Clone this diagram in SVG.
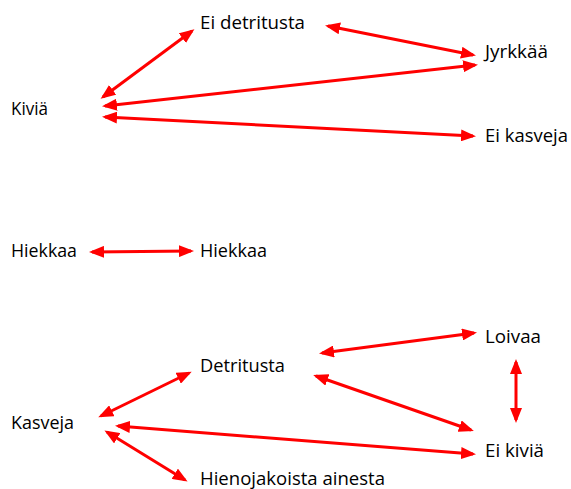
<svg xmlns="http://www.w3.org/2000/svg" width="571" height="489" viewBox="0 0 571 489">
<style>
text{font-family:"Open Sans","Liberation Sans",sans-serif;font-size:18px;fill:#000}
.c line{stroke:#ff0000;stroke-width:3;fill:none;marker-start:url(#ah);marker-end:url(#ah)}
</style>
<defs>
<marker id="ah" markerUnits="userSpaceOnUse" markerWidth="15" markerHeight="12" refX="12" refY="6" orient="auto-start-reverse" viewBox="0 0 15 12">
<path d="M0,0 L15,6 L0,12 z" fill="#ff0000"/>
</marker>
</defs>
<rect width="571" height="489" fill="#ffffff"/>
<g id="n-eidetritusta"><text x="200" y="29" textLength="105" lengthAdjust="spacingAndGlyphs">Ei detritusta</text></g>
<g id="n-jyrkkaa"><text x="485" y="58" textLength="63" lengthAdjust="spacingAndGlyphs">Jyrkkää</text></g>
<g id="n-kivia"><text x="11" y="115" textLength="37" lengthAdjust="spacingAndGlyphs">Kiviä</text></g>
<g id="n-eikasveja"><text x="485" y="142" textLength="83" lengthAdjust="spacingAndGlyphs">Ei kasveja</text></g>
<g id="n-hiekkaa1"><text x="11" y="257" textLength="66" lengthAdjust="spacingAndGlyphs">Hiekkaa</text></g>
<g id="n-hiekkaa2"><text x="200" y="257" textLength="67" lengthAdjust="spacingAndGlyphs">Hiekkaa</text></g>
<g id="n-detritusta"><text x="200" y="372" textLength="85" lengthAdjust="spacingAndGlyphs">Detritusta</text></g>
<g id="n-kasveja"><text x="11" y="429" textLength="63" lengthAdjust="spacingAndGlyphs">Kasveja</text></g>
<g id="n-hienojakoista"><text x="200" y="485" textLength="185" lengthAdjust="spacingAndGlyphs">Hienojakoista ainesta</text></g>
<g id="n-loivaa"><text x="485" y="343" textLength="56" lengthAdjust="spacingAndGlyphs">Loivaa</text></g>
<g id="n-eikivia"><text x="485" y="457" textLength="59" lengthAdjust="spacingAndGlyphs">Ei kiviä</text></g>
<g class="c" id="connectors">
<line x1="103" y1="97" x2="192" y2="31"/>
<line x1="328" y1="26" x2="473" y2="55"/>
<line x1="105" y1="106" x2="475" y2="65"/>
<line x1="105" y1="117" x2="473" y2="136"/>
<line x1="92" y1="252" x2="191" y2="251"/>
<line x1="101" y1="416" x2="189" y2="373"/>
<line x1="322" y1="353" x2="474" y2="333"/>
<line x1="316" y1="376" x2="471" y2="430"/>
<line x1="118" y1="426" x2="473" y2="454"/>
<line x1="107" y1="432" x2="185" y2="480"/>
<line x1="516" y1="362" x2="516" y2="420"/>
</g>
</svg>
